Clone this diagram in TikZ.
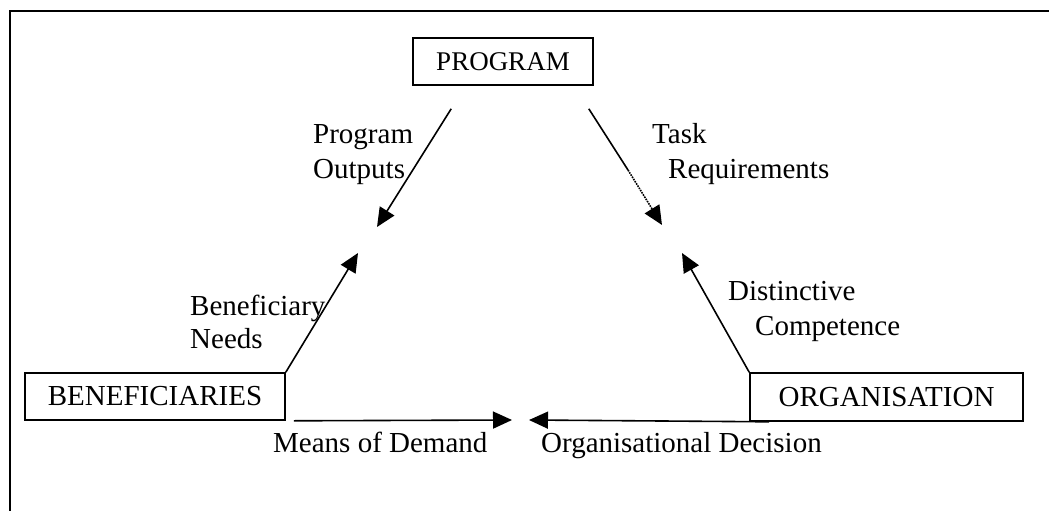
\documentclass[tikz,border=0pt]{standalone}
\usepackage{fontspec}
\setmainfont{Liberation Serif}
\usetikzlibrary{arrows.meta,calc}
\begin{document}
\begin{tikzpicture}[x=1pt,y=-1pt,
  txt/.style={font=\fontsize{29}{34}\selectfont},
  box/.style={txt,draw,line width=1.6pt,rectangle,inner sep=0pt},
  lbl/.style={txt,inner sep=0pt,anchor=base west},
  conn/.style={line width=1.6pt,-{Triangle[length=19pt,width=17pt]}},
  plain/.style={line width=1.6pt},
  frameline/.style={line width=2pt}]
\useasboundingbox (0,0) rectangle (1049,511);

% open frame: top and left edges only
\draw[frameline] (10,511) -- (10,11) -- (1049,11);

% the three parties
\node[box,font=\fontsize{27}{32}\selectfont,minimum width=180pt,minimum height=47pt] (prog) at (503,61.5) {PROGRAM};
\node[box,minimum width=260pt,minimum height=47pt] (benef) at (155,396.5) {BENEFICIARIES};
\node[box,minimum width=273pt,minimum height=48pt] (org) at (886.5,397) {ORGANISATION};

% connector end points
\coordinate (poS) at ($(prog.south west)+(39,23)$);
\coordinate (poE) at (377,227);
\coordinate (trS) at ($(prog.south east)+(-5,23)$);
\coordinate (trM) at (628,170);
\coordinate (trE) at (662,225);
\coordinate (bnS) at (benef.north east);
\coordinate (bnE) at (358,253);
\coordinate (dcS) at (org.north west);
\coordinate (dcE) at (682,253);
\coordinate (mdS) at ($(benef.south east)+(8,0)$);
\coordinate (mdE) at (512,420);
\coordinate (odS) at ($(org.south west)+(20,0)$);
\coordinate (odE) at (529,420);

% connectors
\draw[conn] (poS) -- (poE);
\draw[plain] (trS) -- (trM);
\draw[conn,densely dotted] (trM) -- (trE);
\draw[conn] (bnS) -- (bnE);
\draw[conn] (dcS) -- (dcE);
\draw[conn] (mdS) -- (mdE);
\draw[conn] (odS) -- (odE);

% connector labels
\node[lbl] (po1) at (313,143) {Program};
\node[lbl] (po2) at (313,178) {Outputs};
\node[lbl] (tr1) at (652,143) {Task};
\node[lbl] (tr2) at (668,178) {Requirements};
\node[lbl] (bn1) at (190,315) {Beneficiary};
\node[lbl] (bn2) at (190,348) {Needs};
\node[lbl] (dc1) at (728,300) {Distinctive};
\node[lbl] (dc2) at (755,335) {Competence};
\begin{scope}
  \clip (0,0) rectangle (1049,458);
  \node[lbl] (md) at (273,452) {Means of Demand};
  \node[lbl] (od) at (541,452) {Organisational Decision};
\end{scope}
\end{tikzpicture}
\end{document}
